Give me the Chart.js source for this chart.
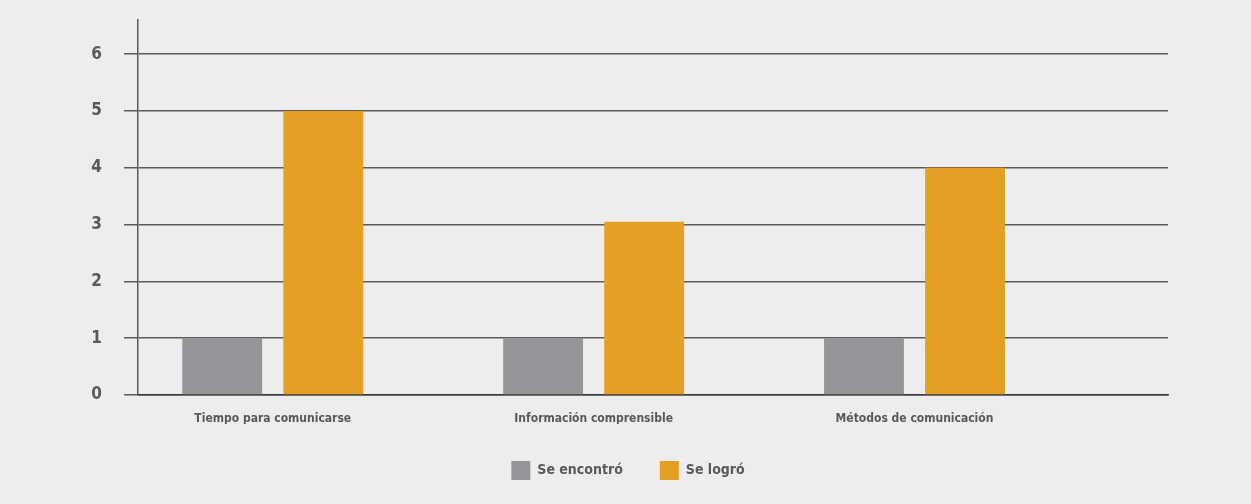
<!DOCTYPE html>
<html>
<head>
<meta charset="utf-8">
<script src="https://cdn.jsdelivr.net/npm/chart.js@4"></script>
<style>
  html, body { margin: 0; padding: 0; background: #ededed; }
  #wrap { width: 1251px; height: 504px; }
</style>
</head>
<body>
<div id="wrap"><canvas id="chart"></canvas></div>
<script>
const categories = ['Tiempo para comunicarse', 'Información comprensible', 'Métodos de comunicación'];
const encontro = [1, 1, 1];
const logro = [5, 3.05, 4];
const seriesNames = ['Se encontró', 'Se logró'];
const yTicks = [0, 1, 2, 3, 4, 5, 6];

const textColor = '#58595b';
const gridColor = '#5a5a5a';
const fontFamily = "'Liberation Sans Narrow', 'DejaVu Sans Condensed', sans-serif";

const toPoints = arr => arr.map((v, i) => ({ x: i, y: v }));

new Chart(document.getElementById('chart'), {
  type: 'bar',
  data: {
    datasets: [
      { label: seriesNames[0], data: toPoints(encontro), backgroundColor: '#939598' },
      { label: seriesNames[1], data: toPoints(logro), backgroundColor: '#e3a024' }
    ]
  },
  options: {
    responsive: true,
    maintainAspectRatio: false,
    animation: false,
    categoryPercentage: 0.63,
    barPercentage: 0.79,
    layout: { padding: { top: 20, right: 0, bottom: 14, left: 5 } },
    plugins: {
      tooltip: { enabled: false },
      legend: {
        position: 'bottom',
        labels: {
          boxWidth: 19,
          boxHeight: 19,
          padding: 37,
          color: textColor,
          font: { family: fontFamily, size: 14, weight: 'bold' }
        }
      }
    },
    scales: {
      x: {
        type: 'linear',
        bounds: 'data',
        offset: false,
        min: -0.42,
        max: 2.79,
        z: 1,
        afterBuildTicks: scale => { scale.ticks = categories.map((c, i) => ({ value: i })); },
        afterFit: scale => { scale.height = 29; },
        grid: { display: false, offset: false },
        border: { display: true, color: '#3a3a3a', width: 1.5 },
        ticks: {
          autoSkip: false,
          maxRotation: 0,
          padding: 10,
          color: textColor,
          font: { family: fontFamily, size: 12, weight: 'bold', lineHeight: 1 },
          callback: v => categories[v]
        }
      },
      y: {
        min: yTicks[0],
        max: 6.6,
        afterFit: scale => { scale.width = 133; scale.paddingTop = 0; scale.paddingBottom = 0; },
        afterBuildTicks: scale => { scale.ticks = yTicks.map(v => ({ value: v })); },
        grid: { color: gridColor, lineWidth: 1.5, tickLength: 14, tickColor: gridColor },
        border: { color: gridColor, width: 1.5 },
        ticks: {
          padding: 22,
          color: textColor,
          font: { family: fontFamily, size: 17, weight: 'bold' }
        }
      },
      yRight: {
        position: 'right',
        min: 0,
        max: 1,
        afterFit: scale => { scale.width = 83; scale.paddingTop = 0; scale.paddingBottom = 0; },
        grid: { display: false },
        border: { display: false },
        ticks: { display: false }
      }
    }
  }
});
</script>
</body>
</html>
